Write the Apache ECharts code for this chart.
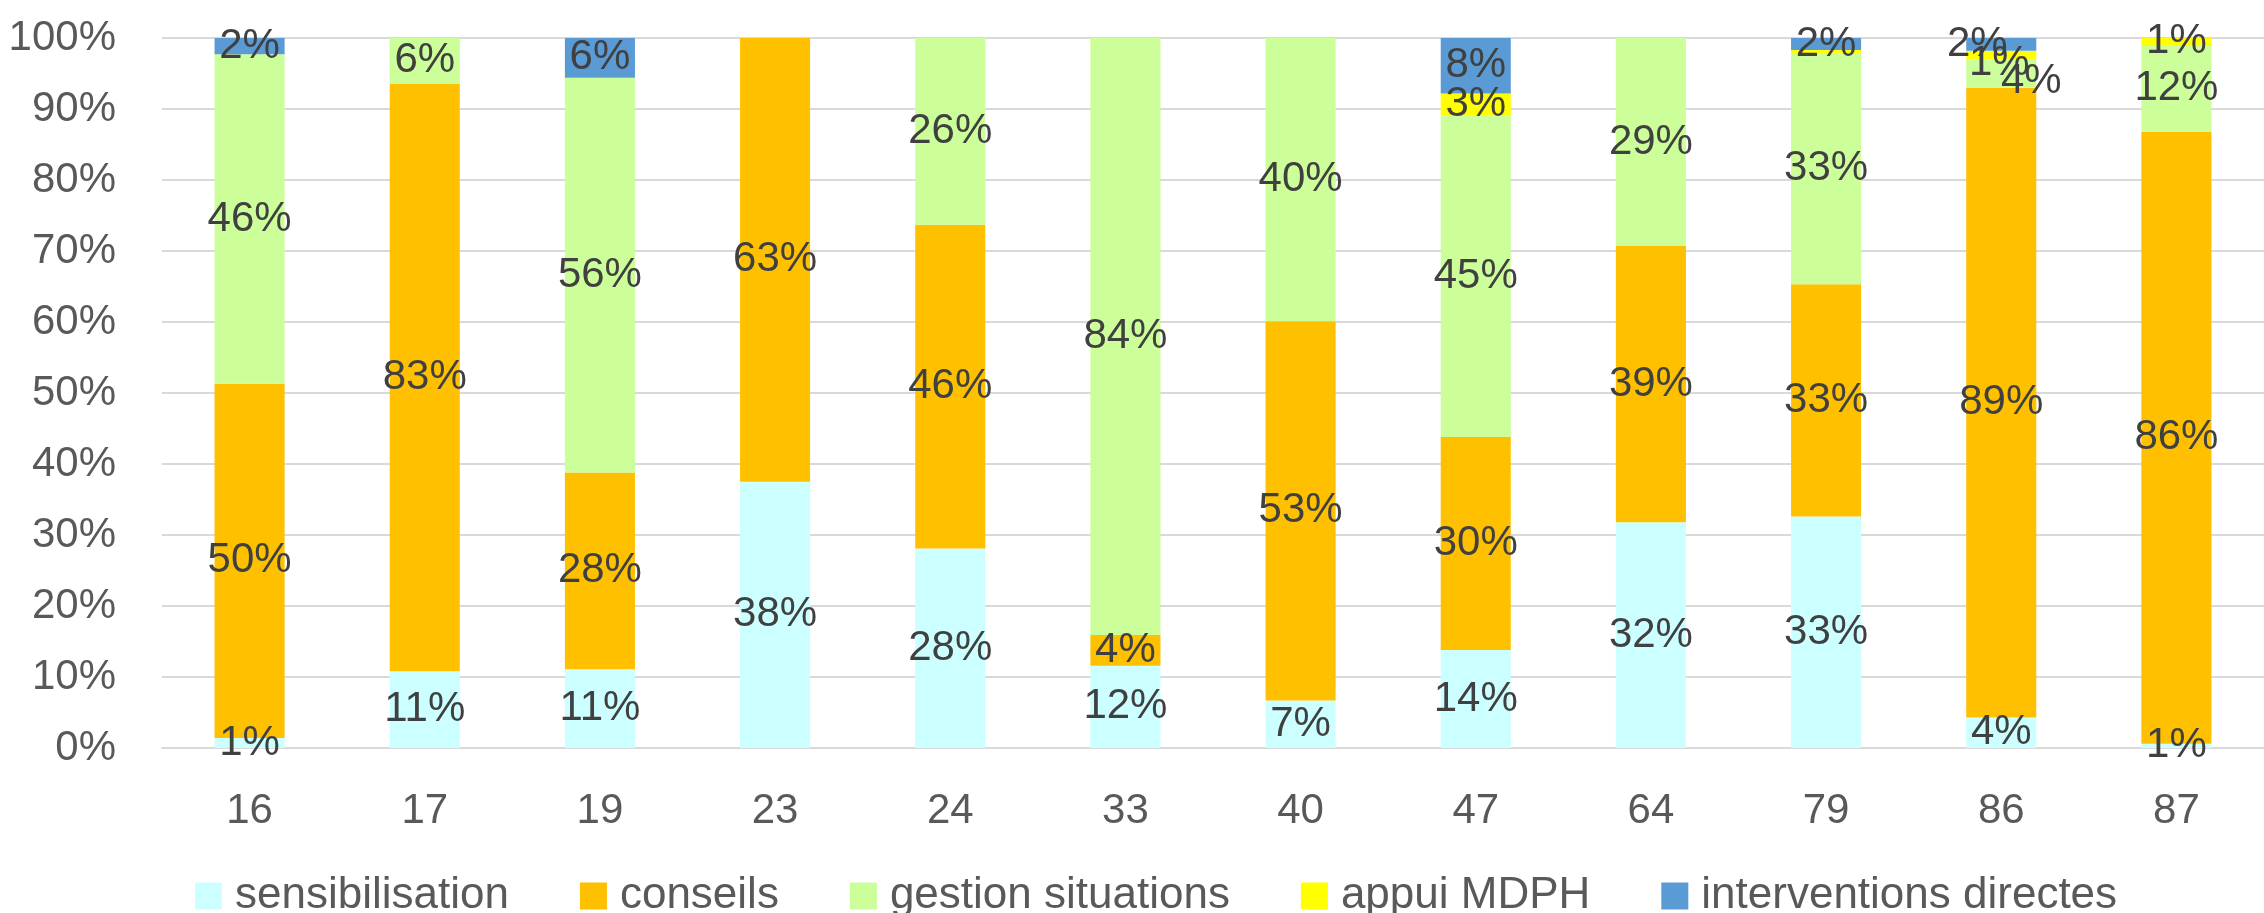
<!DOCTYPE html>
<html>
<head>
<meta charset="utf-8">
<script src="https://cdn.jsdelivr.net/npm/echarts@6/dist/echarts.min.js"></script>
<style>
html,body{margin:0;padding:0;background:#fff;}
#chart{width:2264px;height:913px;}
</style>
</head>
<body>
<div id="chart"></div>
<script>
const categories = ['16','17','19','23','24','33','40','47','64','79','86','87'];
const seriesNames = ['sensibilisation','conseils','gestion situations','appui MDPH','interventions directes'];
const sensibilisation = [1.4, 10.8, 11.1, 37.5, 28.1, 11.6, 6.7, 13.8, 31.8, 32.6, 4.3, 0.6];
const conseils =        [49.9, 82.8, 27.7, 62.5, 45.6, 4.3, 53.4, 30.0, 38.9, 32.7, 88.7, 86.2];
const gestion =         [46.4, 6.4, 55.6, 0, 26.3, 84.1, 39.9, 45.3, 29.3, 32.6, 4.0, 12.2];
const appuiMDPH =       [0, 0, 0, 0, 0, 0, 0, 3.1, 0, 0.4, 1.2, 1.0];
const interventions =   [2.3, 0, 5.6, 0, 0, 0, 0, 7.8, 0, 1.7, 1.8, 0];
const yTicks = [0,10,20,30,40,50,60,70,80,90,100];

const colors = ['#CCFFFF','#FFC000','#CCFF99','#FFFF00','#5B9BD5'];
const allData = [sensibilisation, conseils, gestion, appuiMDPH, interventions];
// label nudges to avoid overlaps (as in the original): series index -> category index -> [dx, dy]
const labelNudges = {2: {10: [30, 8]}, 3: {10: [-2, 8]}, 4: {10: [-24, 0]}};

const FONT = '"Liberation Sans", Arial, sans-serif';

const series = seriesNames.map((name, si) => ({
  name,
  type: 'bar',
  stack: 'total',
  barWidth: '40%',
  itemStyle: {color: colors[si]},
  label: {
    show: true,
    position: 'inside',
    color: '#404040',
    fontFamily: FONT,
    fontSize: 42,
    formatter: p => (p.value < 0.5 ? '' : Math.round(p.value) + '%')
  },
  labelLayout: params => {
    const n = labelNudges[si] && labelNudges[si][params.dataIndex];
    return n ? {dx: n[0], dy: n[1], hideOverlap: false} : {hideOverlap: false};
  },
  data: allData[si]
}));

const chart = echarts.init(document.getElementById('chart'), null, {renderer: 'canvas'});
chart.setOption({
  animation: false,
  backgroundColor: '#ffffff',
  grid: {left: 162, right: 0, top: 38, bottom: 165, containLabel: false},
  legend: {
    data: seriesNames,
    left: 190,
    top: 869,
    itemWidth: 27,
    itemHeight: 27,
    itemGap: 71,
    icon: 'rect',
    textStyle: {color: '#595959', fontFamily: FONT, fontSize: 44, padding: [0, 0, 0, 8]}
  },
  xAxis: {
    type: 'category',
    data: categories,
    axisLine: {show: true, lineStyle: {color: '#D9D9D9', width: 2}},
    axisTick: {show: false},
    axisLabel: {color: '#595959', fontFamily: FONT, fontSize: 42, margin: 42}
  },
  yAxis: {
    type: 'value',
    min: yTicks[0],
    max: yTicks[yTicks.length - 1],
    interval: yTicks[1] - yTicks[0],
    axisLine: {show: false},
    axisTick: {show: false},
    splitLine: {lineStyle: {color: '#D9D9D9', width: 2}},
    axisLabel: {color: '#595959', fontFamily: FONT, fontSize: 42, margin: 46, formatter: '{value}%'}
  },
  series
});
</script>
</body>
</html>
